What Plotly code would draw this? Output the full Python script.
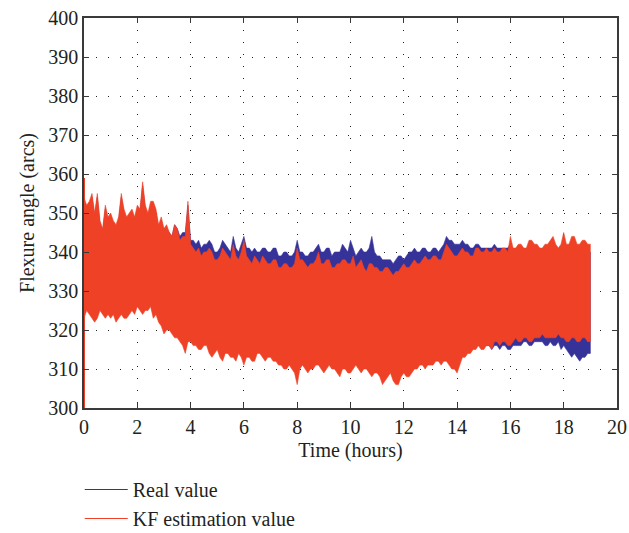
import numpy as np
import plotly.graph_objects as go

# sample times (hours), every 0.1 h
time_h = np.round(np.arange(0, 19.001, 0.1), 1)

# envelope values (arcs), one row per hour
kf_upper = [354, 352, 353, 355, 350, 355, 348, 346, 352, 349,
            350, 348, 347, 349, 355, 351, 349, 350, 351, 349,
            352, 351, 358, 352, 350, 353, 353, 351, 347, 349,
            346, 347, 345, 344, 347, 346, 343, 344, 344, 353,
            342, 341, 340, 341, 339, 340, 340, 341, 340, 338,
            338, 339, 341, 340, 339, 338, 342, 339, 338, 340,
            343, 339, 338, 337, 339, 338, 337, 339, 338, 337,
            337, 338, 338, 336, 336, 337, 337, 336, 336, 337,
            341, 338, 338, 337, 336, 337, 337, 338, 340, 337,
            337, 338, 338, 336, 336, 337, 337, 338, 338, 337,
            337, 339, 336, 337, 338, 336, 335, 337, 337, 336,
            336, 335, 335, 336, 336, 335, 334, 335, 335, 336,
            337, 336, 336, 337, 338, 337, 337, 338, 339, 338,
            338, 339, 339, 338, 338, 340, 342, 341, 340, 339,
            339, 340, 341, 340, 340, 339, 339, 341, 341, 340,
            340, 341, 340, 340, 341, 340, 340, 341, 341, 340,
            344, 341, 341, 342, 342, 341, 341, 343, 343, 342,
            342, 341, 341, 342, 342, 343, 344, 342, 341, 342,
            345, 342, 342, 344, 344, 342, 342, 343, 343, 342,
            342]
real_upper = [353, 351, 352, 354, 349, 354, 347, 345, 351, 348,
              349, 347, 346, 348, 354, 350, 348, 349, 350, 348,
              351, 350, 357, 351, 349, 352, 352, 350, 346, 348,
              345, 346, 345, 344, 347, 346, 344, 345, 345, 352,
              343, 343, 342, 343, 341, 342, 342, 343, 342, 340,
              340, 341, 343, 342, 341, 340, 344, 341, 340, 342,
              344, 341, 341, 340, 341, 340, 340, 341, 341, 340,
              340, 341, 341, 339, 339, 340, 340, 339, 339, 340,
              343, 340, 340, 339, 339, 340, 340, 341, 342, 340,
              340, 341, 341, 339, 340, 340, 340, 342, 341, 340,
              343, 341, 339, 340, 341, 340, 340, 341, 344, 340,
              339, 339, 338, 338, 338, 338, 337, 338, 339, 339,
              338, 339, 340, 340, 341, 340, 340, 341, 341, 340,
              340, 341, 341, 340, 341, 342, 344, 343, 343, 342,
              342, 342, 343, 342, 342, 341, 341, 342, 342, 341,
              341, 341, 341, 341, 342, 341, 341, 341, 341, 341,
              342, 340, 340, 341, 341, 340, 340, 341, 341, 340,
              340, 340, 340, 341, 341, 341, 341, 340, 340, 340,
              341, 340, 340, 341, 341, 340, 340, 340, 340, 340,
              340]
kf_lower = [323, 325, 324, 323, 322, 323, 325, 324, 323, 324,
            323, 324, 322, 323, 324, 323, 323, 324, 325, 324,
            326, 325, 324, 325, 325, 326, 323, 324, 322, 321,
            319, 320, 320, 319, 318, 318, 317, 316, 314, 317,
            317, 316, 316, 315, 315, 316, 316, 314, 313, 314,
            315, 313, 312, 314, 314, 313, 313, 312, 314, 313,
            311, 313, 313, 312, 312, 314, 314, 313, 312, 313,
            313, 312, 312, 311, 311, 310, 310, 311, 310, 309,
            306, 310, 311, 310, 309, 310, 310, 311, 311, 310,
            309, 310, 311, 310, 310, 309, 308, 310, 310, 309,
            309, 310, 311, 310, 309, 310, 310, 309, 308, 309,
            309, 308, 306, 307, 308, 309, 307, 306, 306, 308,
            309, 308, 308, 309, 310, 310, 311, 311, 310, 311,
            311, 311, 312, 312, 311, 312, 312, 311, 310, 310,
            309, 311, 313, 313, 314, 314, 315, 315, 316, 315,
            315, 316, 316, 315, 317, 317, 316, 317, 317, 316,
            316, 317, 318, 317, 317, 318, 318, 317, 317, 318,
            318, 318, 319, 318, 318, 318, 318, 318, 319, 318,
            318, 317, 317, 318, 318, 317, 317, 318, 318, 317,
            317]
real_lower = [325, 326, 325, 324, 323, 324, 326, 325, 324, 325,
              324, 325, 323, 324, 325, 324, 324, 325, 326, 325,
              327, 326, 325, 326, 326, 327, 324, 325, 323, 322,
              320, 321, 321, 320, 319, 319, 318, 317, 315, 318,
              318, 317, 317, 316, 316, 317, 317, 315, 314, 315,
              316, 314, 313, 315, 315, 314, 314, 313, 315, 314,
              312, 314, 314, 313, 313, 315, 315, 314, 313, 314,
              314, 313, 313, 312, 312, 311, 311, 312, 311, 310,
              308, 311, 312, 311, 310, 311, 311, 312, 312, 311,
              310, 311, 312, 311, 311, 310, 309, 311, 311, 310,
              310, 311, 312, 311, 310, 311, 311, 310, 309, 310,
              310, 309, 308, 308, 309, 310, 308, 308, 308, 309,
              310, 309, 309, 310, 311, 311, 312, 312, 311, 312,
              312, 312, 313, 313, 312, 313, 313, 312, 311, 311,
              310, 312, 314, 314, 315, 315, 316, 316, 316, 316,
              316, 316, 316, 315, 316, 316, 315, 316, 316, 315,
              315, 316, 316, 316, 316, 317, 317, 316, 316, 317,
              317, 317, 317, 316, 316, 317, 316, 316, 317, 315,
              316, 315, 314, 313, 314, 313, 312, 313, 313, 314,
              314]
# initial transient of the KF estimate at t = 0
kf_initial_time = [0, 0]
kf_initial_values = [300, 359]

series_names = ["Real value", "KF estimation value"]
blue = "#35329a"
red = "#ef4126"

x_ticks = list(range(0, 21, 2))
y_ticks = list(range(300, 401, 10))

FONT = "Liberation Serif"
FS = 20
TXT = "#231f20"


def band(upper, lower):
    xs = list(time_h) + list(time_h[::-1])
    ys = list(upper) + list(lower[::-1])
    return xs, ys


fig = go.Figure()
for name, up, lo, col in [(series_names[0], real_upper, real_lower, blue),
                          (series_names[1], kf_upper, kf_lower, red)]:
    xs, ys = band(up, lo)
    fig.add_trace(go.Scatter(x=xs, y=ys, mode="lines", fill="toself",
                             fillcolor=col, line=dict(color=col, width=0.6),
                             showlegend=False, hoverinfo="skip"))
fig.add_trace(go.Scatter(x=kf_initial_time, y=kf_initial_values, mode="lines",
                         line=dict(color=red, width=2), showlegend=False, hoverinfo="skip"))
for name, col in [(series_names[0], blue), (series_names[1], red)]:
    fig.add_trace(go.Scatter(x=[None], y=[None], mode="lines", name=name,
                             line=dict(color=col, width=1.2)))

axis_common = dict(
    showline=True, linecolor="#3a3a3a", linewidth=1.5, mirror="ticks",
    ticks="inside", ticklen=5, tickcolor="#3a3a3a", tickwidth=1.2,
    showgrid=True, gridcolor="#222", gridwidth=1, griddash="1px,11px",
    zeroline=False, tickfont=dict(family=FONT, size=FS, color=TXT),
    automargin=False,
)

fig.update_xaxes(range=[0, 20], tickvals=x_ticks,
                 title=dict(text="Time (hours)", font=dict(family=FONT, size=FS, color=TXT), standoff=6),
                 **axis_common)
fig.update_yaxes(range=[300, 400], tickvals=y_ticks,
                 title=dict(text="Flexure angle (arcs)", font=dict(family=FONT, size=FS, color=TXT), standoff=8),
                 **axis_common)

fig.update_layout(
    width=629, height=533,
    margin=dict(l=84, r=12, t=18, b=125, autoexpand=False),
    plot_bgcolor="white", paper_bgcolor="white",
    font=dict(family=FONT, size=FS, color=TXT),
    legend=dict(x=-0.008, y=-0.159, xanchor="left", yanchor="top",
                bgcolor="rgba(0,0,0,0)", font=dict(family=FONT, size=FS, color=TXT),
                itemwidth=43, tracegroupgap=0),
)

fig.write_html("out.html")
